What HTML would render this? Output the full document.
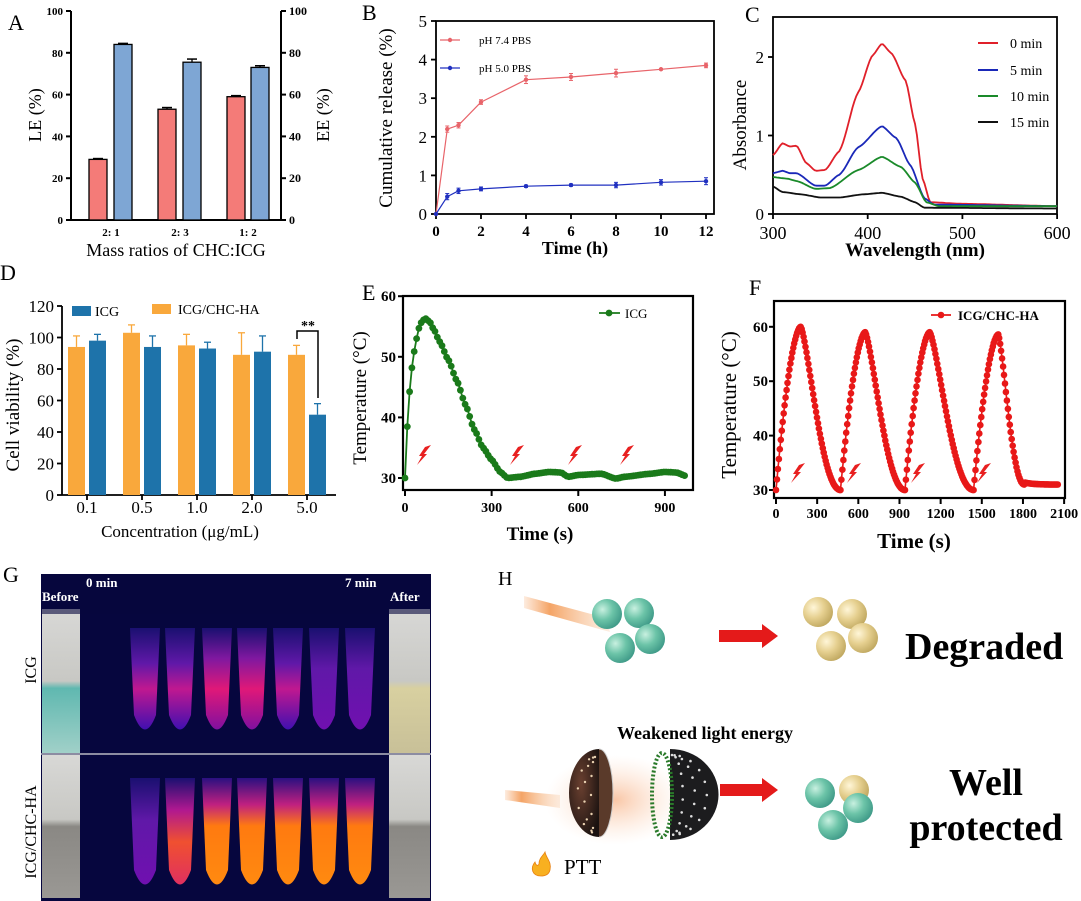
<!DOCTYPE html>
<html><head><meta charset="utf-8">
<style>
html,body{margin:0;padding:0;background:#fff;}
svg{display:block;font-family:"Liberation Serif",serif;}
</style></head>
<body>
<svg id="s" width="1081" height="901" viewBox="0 0 1081 901" xmlns="http://www.w3.org/2000/svg">
<defs>
<radialGradient id="teal" cx="35%" cy="35%" r="70%"><stop offset="0" stop-color="#c8f0e0"/><stop offset="0.5" stop-color="#6cc4a8"/><stop offset="1" stop-color="#3f9a88"/></radialGradient>
<radialGradient id="tan" cx="35%" cy="35%" r="70%"><stop offset="0" stop-color="#fff6d8"/><stop offset="0.5" stop-color="#e6d090"/><stop offset="1" stop-color="#c0a860"/></radialGradient>
<linearGradient id="beam" x1="0" y1="0" x2="1" y2="0"><stop offset="0" stop-color="#f6a060" stop-opacity="0.2"/><stop offset="0.3" stop-color="#f39a55" stop-opacity="0.9"/><stop offset="1" stop-color="#f8c8a0" stop-opacity="0.3"/></linearGradient>
<linearGradient id="t1" x1="0" y1="0" x2="0" y2="1"><stop offset="0" stop-color="#1a1070"/><stop offset="0.35" stop-color="#6018a8"/><stop offset="0.6" stop-color="#c01890"/><stop offset="1" stop-color="#4010b0"/></linearGradient>
<linearGradient id="t2" x1="0" y1="0" x2="0" y2="1"><stop offset="0" stop-color="#1a1070"/><stop offset="0.3" stop-color="#8018a0"/><stop offset="0.6" stop-color="#e01878"/><stop offset="1" stop-color="#8010a0"/></linearGradient>
<linearGradient id="b1" x1="0" y1="0" x2="0" y2="1"><stop offset="0" stop-color="#1a1070"/><stop offset="0.4" stop-color="#6018a8"/><stop offset="1" stop-color="#7010b0"/></linearGradient>
<linearGradient id="b2" x1="0" y1="0" x2="0" y2="1"><stop offset="0" stop-color="#1a1070"/><stop offset="0.3" stop-color="#b01890"/><stop offset="0.6" stop-color="#f05030"/><stop offset="1" stop-color="#e03060"/></linearGradient>
<linearGradient id="b3" x1="0" y1="0" x2="0" y2="1"><stop offset="0" stop-color="#2a1080"/><stop offset="0.25" stop-color="#c02080"/><stop offset="0.45" stop-color="#ff7a10"/><stop offset="1" stop-color="#ff8a10"/></linearGradient>
<linearGradient id="photoA" x1="0" y1="0" x2="0" y2="1"><stop offset="0" stop-color="#d8d8d6"/><stop offset="0.5" stop-color="#c8c8c4"/><stop offset="0.55" stop-color="#60b8b0"/><stop offset="1" stop-color="#a0d0c8"/></linearGradient>
<linearGradient id="photoB" x1="0" y1="0" x2="0" y2="1"><stop offset="0" stop-color="#d8d8d6"/><stop offset="0.5" stop-color="#c8c8c4"/><stop offset="0.55" stop-color="#d8d0a0"/><stop offset="1" stop-color="#c8c098"/></linearGradient>
<linearGradient id="photoC" x1="0" y1="0" x2="0" y2="1"><stop offset="0" stop-color="#d8d8d6"/><stop offset="0.45" stop-color="#c8c8c4"/><stop offset="0.5" stop-color="#8a8884"/><stop offset="1" stop-color="#9a9894"/></linearGradient>
<radialGradient id="hemi" cx="40%" cy="40%" r="70%"><stop offset="0" stop-color="#6a4030"/><stop offset="1" stop-color="#1a1210"/></radialGradient>
<radialGradient id="glow" cx="50%" cy="50%" r="50%"><stop offset="0" stop-color="#f8b890" stop-opacity="0.8"/><stop offset="1" stop-color="#fde0cc" stop-opacity="0"/></radialGradient>
</defs>
<g id="g"></g>
</svg>
<script>
var out=[];
function P(s){out.push(s);}
function T(x,y,txt,o){o=o||{};P('<text x="'+x+'" y="'+y+'" font-size="'+(o.fs||14)+'" font-weight="'+(o.fw||'normal')+'" text-anchor="'+(o.a||'middle')+'" fill="'+(o.c||'#000')+'"'+(o.r?' transform="rotate(-90 '+x+' '+y+')"':'')+'>'+txt+'</text>');}
function L(x1,y1,x2,y2,c,w){P('<line x1="'+x1+'" y1="'+y1+'" x2="'+x2+'" y2="'+y2+'" stroke="'+(c||'#000')+'" stroke-width="'+(w||1.5)+'"/>');}
function PL(pts,c,w){P('<polyline fill="none" stroke="'+c+'" stroke-width="'+(w||1.5)+'" stroke-linejoin="round" points="'+pts.map(function(p){return p[0].toFixed(1)+','+p[1].toFixed(1);}).join(' ')+'"/>');}
function interp(d,x){for(var i=0;i<d.length-1;i++){if(x<=d[i+1][0]){var t=(x-d[i][0])/(d[i+1][0]-d[i][0]);var a=d[i][1],b=d[i+1][1];var s=t*t*(3-2*t);return a+(b-a)*(0.5*t+0.5*s);}}return d[d.length-1][1];}

/* Panel A */
T(8,30,'A',{fs:22,a:'start'});
var ax0=71,ax1=281,ay0=220,ay100=11;function ay(v){return ay0-(ay0-ay100)*v/100;}
L(ax0,ay100,ax0,ay0,'#000',2);L(ax1,ay100,ax1,ay0,'#000',2);L(ax0,ay0,ax1,ay0,'#000',2);
for(var v=0;v<=100;v+=20){L(ax0-5,ay(v),ax0,ay(v),'#000',2);L(ax1,ay(v),ax1+5,ay(v),'#000',2);T(ax0-8,ay(v)+4,v,{fs:11,fw:'bold',a:'end'});T(ax1+8,ay(v)+4,v,{fs:12,fw:'bold',a:'start'});}
var bars=[[89,29,0.4],[114,84,0.5],[158,53,0.8],[183,75.5,1.5],[227,59,0.5],[251,73,0.8]];
bars.forEach(function(b,i){var c=i%2?'#7ea6d4':'#f47b78';P('<rect x="'+b[0]+'" y="'+ay(b[1])+'" width="18" height="'+(ay0-ay(b[1]))+'" fill="'+c+'" stroke="#000" stroke-width="1.3"/>');var xm=b[0]+9;L(xm,ay(b[1]+b[2]),xm,ay(b[1]),'#000',1.3);L(xm-5,ay(b[1]+b[2]),xm+5,ay(b[1]+b[2]),'#000',1.5);});
T(111,236,'2: 1',{fs:11,fw:'bold'});T(180,236,'2: 3',{fs:11,fw:'bold'});T(248,236,'1: 2',{fs:11,fw:'bold'});
T(176,256,'Mass ratios of CHC:ICG',{fs:18});
T(41,115,'LE (%)',{fs:18,r:1});T(329,115,'EE (%)',{fs:18,r:1});

/* Panel B */
T(362,20,'B',{fs:22,a:'start'});
var bx0=436,bx1=714,by0=214,bytop=21;function bx(t){return bx0+t*22.5;}function by(v){return by0-v*38.6;}
P('<rect x="'+bx0+'" y="'+bytop+'" width="'+(bx1-bx0)+'" height="'+(by0-bytop)+'" fill="none" stroke="#000" stroke-width="1.8"/>');
for(var v=0;v<=5;v++){L(bx0-5,by(v),bx0,by(v),'#000',1.8);T(bx0-9,by(v)+6,v,{fs:17,a:'end'});}
for(var t=0;t<=12;t+=2){L(bx(t),by0,bx(t),by0+5,'#000',1.8);T(bx(t),by0+22,t,{fs:15,fw:'bold'});}
T(575,254,'Time (h)',{fs:18,fw:'bold'});
T(392,118,'Cumulative release (%)',{fs:19,r:1});
var ts=[0,0.5,1,2,4,6,8,10,12];
var r74=[0,2.2,2.3,2.9,3.48,3.55,3.65,3.75,3.85],e74=[0,0.08,0.07,0.06,0.1,0.09,0.1,0.02,0.06];
var r50=[0,0.45,0.6,0.65,0.72,0.75,0.75,0.82,0.85],e50=[0,0.08,0.07,0.05,0.03,0.03,0.07,0.07,0.09];
function ser(r,e,c){PL(ts.map(function(t,i){return [bx(t),by(r[i])];}),c,1.2);ts.forEach(function(t,i){var x=bx(t);L(x,by(r[i]+e[i]),x,by(r[i]-e[i]),c,1);L(x-2,by(r[i]+e[i]),x+2,by(r[i]+e[i]),c,1);L(x-2,by(r[i]-e[i]),x+2,by(r[i]-e[i]),c,1);P('<circle cx="'+x+'" cy="'+by(r[i])+'" r="2.2" fill="'+c+'"/>');});}
ser(r74,e74,'#e8646a');ser(r50,e50,'#2030c0');
L(440,40,460,40,'#e8646a',1.2);P('<circle cx="450" cy="40" r="2.2" fill="#e8646a"/>');T(479,44,'pH 7.4 PBS',{fs:11,a:'start'});
L(440,68,460,68,'#2030c0',1.2);P('<circle cx="450" cy="68" r="2.2" fill="#2030c0"/>');T(479,72,'pH 5.0 PBS',{fs:11,a:'start'});

/* Panel C */
T(745,22,'C',{fs:22,a:'start'});
var cx0=773,cx1=1057,cy0=214,cyt=17;function cx(w){return cx0+(w-300)*0.947;}function cy(v){return cy0-v*78.5;}
P('<rect x="'+cx0+'" y="'+cyt+'" width="'+(cx1-cx0)+'" height="'+(cy0-cyt)+'" fill="none" stroke="#000" stroke-width="1.8"/>');
[0,1,2].forEach(function(v){L(cx0-5,cy(v),cx0,cy(v),'#000',1.8);T(cx0-9,cy(v)+6,v,{fs:17,a:'end'});});
[300,400,500,600].forEach(function(w){L(cx(w),cy0,cx(w),cy0+5,'#000',1.8);T(cx(w),cy0+25,w,{fs:18});});
T(915,256,'Wavelength (nm)',{fs:19,fw:'bold'});
T(746,125,'Absorbance',{fs:19,r:1});
var curves=[
['#e0202a',[[300,0.75],[310,0.9],[318,0.86],[325,0.87],[335,0.65],[345,0.55],[355,0.56],[370,0.8],[390,1.55],[405,2.02],[415,2.17],[425,2.05],[440,1.7],[450,1.15],[458,0.45],[466,0.15],[500,0.13],[600,0.1]]],
['#1a28b8',[[300,0.52],[310,0.55],[318,0.52],[325,0.52],[345,0.36],[355,0.36],[370,0.5],[390,0.85],[415,1.12],[430,0.97],[445,0.62],[460,0.2],[470,0.12],[600,0.1]]],
['#1a8a2a',[[300,0.47],[315,0.45],[325,0.42],[345,0.32],[360,0.33],[390,0.56],[415,0.73],[435,0.6],[450,0.4],[462,0.15],[475,0.1],[600,0.1]]],
['#111111',[[300,0.35],[310,0.28],[330,0.25],[350,0.21],[370,0.21],[395,0.25],[415,0.27],[435,0.22],[450,0.15],[460,0.08],[600,0.07]]]];
curves.forEach(function(c){var pts=[];for(var w=300;w<=600;w+=2){pts.push([cx(w),cy(interp(c[1],w))]);}PL(pts,c[0],1.8);});
var lg=[['0 min',43],['5 min',70],['10 min',96],['15 min',122]];
lg.forEach(function(l,i){L(978,l[1],998,l[1],curves[i][0],2);T(1010,l[1]+5,l[0],{fs:14,a:'start'});});

/* Panel D */
T(0,280,'D',{fs:22,a:'start'});
var dx0=62,dx1=336,dy0=495;function dy(v){return dy0-v*1.575;}
L(dx0,dy(120),dx0,dy0,'#000',1.8);L(dx0,dy0,dx1,dy0,'#000',1.8);
for(var v=0;v<=120;v+=20){L(dx0-5,dy(v),dx0,dy(v),'#000',1.8);T(dx0-8,dy(v)+6,v,{fs:17,a:'end'});}
var cen=[87,142,197,252,307],lab=['0.1','0.5','1.0','2.0','5.0'];
var ov=[94,103,95,89,89],oe=[101,108,102,103,95],bv=[98,94,93,91,51],be=[102,101,97,101,58];
cen.forEach(function(c,i){L(c,dy0,c,dy0+5,'#000',1.8);T(c,513,lab[i],{fs:17});
P('<rect x="'+(c-19)+'" y="'+dy(ov[i])+'" width="17" height="'+(dy0-dy(ov[i]))+'" fill="#f9a83c"/>');
L(c-10.5,dy(oe[i]),c-10.5,dy(ov[i]),'#f9a83c',1.3);L(c-14,dy(oe[i]),c-7,dy(oe[i]),'#f9a83c',1.3);
P('<rect x="'+(c+2)+'" y="'+dy(bv[i])+'" width="17" height="'+(dy0-dy(bv[i]))+'" fill="#1e73aa"/>');
L(c+10.5,dy(be[i]),c+10.5,dy(bv[i]),'#1e73aa',1.3);L(c+7,dy(be[i]),c+14,dy(be[i]),'#1e73aa',1.3);});
P('<polyline fill="none" stroke="#000" stroke-width="1.5" points="297,339 297,331 318,331 318,398"/>');
T(308,330,'**',{fs:14,fw:'bold'});
P('<rect x="72" y="306" width="19" height="10" fill="#1e73aa"/>');T(95,316,'ICG',{fs:14,a:'start'});
P('<rect x="152" y="304" width="19" height="10" fill="#f9a83c"/>');T(178,314,'ICG/CHC-HA',{fs:14,a:'start'});
T(180,537,'Concentration (μg/mL)',{fs:17});
T(19,405,'Cell viability (%)',{fs:19,r:1});

/* Bolt */
function bolt(x,y){P('<path d="M'+(x+8)+','+(y-10)+' L'+(x+1)+','+(y-1)+' L'+(x+4)+','+(y-1)+' L'+(x-6)+','+(y+10)+' L'+(x-1)+','+(y+1)+' L'+(x-4)+','+(y+1)+' L'+(x+2)+','+(y-8)+' Z" fill="#e82020"/>');}

/* Panel E */
T(362,300,'E',{fs:22,a:'start'});
var ex0=403,ex1=693,ey0=490,eyt=296;function ex(t){return 405+t*0.2888;}function ey(v){return 478-(v-30)*6.06;}
P('<rect x="'+ex0+'" y="'+eyt+'" width="'+(ex1-ex0)+'" height="'+(ey0-eyt)+'" fill="none" stroke="#000" stroke-width="2.2"/>');
[30,40,50,60].forEach(function(v){L(ex0-5,ey(v),ex0,ey(v),'#000',2);T(ex0-7,ey(v)+5,v,{fs:15,fw:'bold',a:'end'});});
[0,300,600,900].forEach(function(t){L(ex(t),ey0,ex(t),ey0+6,'#000',2);T(ex(t),ey0+22,t,{fs:14,fw:'bold'});});
T(540,540,'Time (s)',{fs:19,fw:'bold'});
T(366,398,'Temperature (°C)',{fs:19,r:1});
var ed=[[0,30],[10,40],[20,46.8],[30,50.5],[40,53],[50,55],[60,56],[72,56.3],[85,55.8],[100,54.5],[120,52.5],[150,49.5],[180,46],[210,42],[240,38],[270,35],[300,33],[330,31],[355,30],[400,30.2],[450,30.7],[500,31],[540,30.9],[565,30.2],[600,30.5],[680,30.7],[730,29.9],[760,30.2],[850,30.7],[900,31],[940,30.9],[975,30.3]];
var ep=[];for(var t=0;t<=975;t+=8){ep.push([ex(t),ey(interp(ed,t))]);}
PL(ep,'#1a7a1a',1.8);ep.forEach(function(p){P('<circle cx="'+p[0].toFixed(1)+'" cy="'+p[1].toFixed(1)+'" r="3.4" fill="#1a7a1a"/>');});
L(599,313,620,313,'#1a7a1a',1.8);P('<circle cx="609" cy="313" r="3.4" fill="#1a7a1a"/>');T(625,318,'ICG',{fs:13,a:'start'});
bolt(423,455);bolt(516,455);bolt(574,455);bolt(626,455);

/* Panel F */
T(749,295,'F',{fs:22,a:'start'});
var fx0=774,fx1=1065,fy0=498,fyt=301;function fx(t){return 776+t*0.1372;}function fy(v){return 490-(v-30)*5.44;}
P('<rect x="'+fx0+'" y="'+fyt+'" width="'+(fx1-fx0)+'" height="'+(fy0-fyt)+'" fill="none" stroke="#000" stroke-width="2.2"/>');
[30,40,50,60].forEach(function(v){L(fx0-5,fy(v),fx0,fy(v),'#000',2);T(fx0-6,fy(v)+5,v,{fs:15,fw:'bold',a:'end'});});
[0,300,600,900,1200,1500,1800,2100].forEach(function(t){L(fx(t),fy0,fx(t),fy0+6,'#000',2);T(fx(t),fy0+20,t,{fs:14,fw:'bold'});});
T(914,548,'Time (s)',{fs:21,fw:'bold'});
T(736,405,'Temperature (°C)',{fs:21,r:1});
var cyc=[[0,180,470,60],[470,650,940,59],[940,1120,1440,59],[1440,1620,2060,58.6]];
var fp=[];
cyc.forEach(function(c,k){var s=c[0],p=c[1],e=c[2],mx=c[3];
for(var t=s;t<p;t+=7){var u=(t-s)/(p-s);fp.push([t,30+(mx-30)*(1-Math.pow(1-u,1.7))]);}
var endv=k==3?31:30;var fl=k==3?190:(e-p);
for(var t=p;t<=e;t+=7){var u=(t-p)/fl;if(u>1){fp.push([t,31+0.4*Math.exp(-(t-p-fl)/60)]);continue;}var s2=0.5+0.5*Math.cos(Math.PI*Math.pow(u,0.7));fp.push([t,endv+(mx-endv)*s2]);}});
var fpp=fp.map(function(q){return [fx(q[0]),fy(q[1])];});
PL(fpp,'#e81818',1.6);fpp.forEach(function(p){P('<circle cx="'+p[0].toFixed(1)+'" cy="'+p[1].toFixed(1)+'" r="3.3" fill="#e81818"/>');});
L(931,315,951,315,'#e81818',1.8);P('<circle cx="941" cy="315" r="3.3" fill="#e81818"/>');T(958,320,'ICG/CHC-HA',{fs:13,fw:'bold',a:'start'});
bolt(797,473);bolt(853,473);bolt(917,473);bolt(983,473);

/* Panel G */
T(3,582,'G',{fs:22,a:'start'});
P('<rect x="41" y="574" width="390" height="327" fill="#06063e"/>');
P('<rect x="42" y="609" width="38" height="144" fill="url(#photoA)"/>');
P('<rect x="389" y="609" width="41" height="144" fill="url(#photoB)"/>');
P('<rect x="42" y="755" width="38" height="143" fill="url(#photoC)"/>');
P('<rect x="389" y="755" width="41" height="143" fill="url(#photoC)"/>');
L(41,754,431,754,'#ddd',1.2);
var tc=[145,180,217,252,288,324,360],tg1=['t1','t1','t2','t2','t1','b1','b1'],tg2=['b1','b2','b3','b3','b3','b3','b3'];
function tube(c,y1,y2,g){P('<path d="M'+(c-15)+','+y1+' L'+(c+15)+','+y1+' L'+(c+11)+','+(y2-25)+' Q'+c+','+(y2+4)+' '+(c-11)+','+(y2-25)+' Z" fill="url(#'+g+')"/>');}
tc.forEach(function(c,i){tube(c,628,740,tg1[i]);tube(c,778,895,tg2[i]);});
P('<rect x="41" y="574" width="390" height="40" fill="#06063e" opacity="0.6"/>');
T(86,587,'0 min',{fs:13,fw:'bold',c:'#fff',a:'start'});T(42,601,'Before',{fs:13,fw:'bold',c:'#fff',a:'start'});
T(345,587,'7 min',{fs:13,fw:'bold',c:'#fff',a:'start'});T(390,601,'After',{fs:13,fw:'bold',c:'#fff',a:'start'});
T(36,670,'ICG',{fs:16,r:1});T(36,832,'ICG/CHC-HA',{fs:16,r:1});

/* Panel H */
T(498,585,'H',{fs:20,a:'start'});
P('<polygon points="524,596 524,608 610,632 606,618" fill="url(#beam)"/>');
[[607,614],[639,613],[650,639],[620,648]].forEach(function(p){P('<circle cx="'+p[0]+'" cy="'+p[1]+'" r="15" fill="url(#teal)"/>');});
P('<path d="M719,630 L762,630 L762,624 L778,636 L762,648 L762,642 L719,642 Z" fill="#e41a1a"/>');
[[818,612],[852,614],[863,638],[831,646]].forEach(function(p){P('<circle cx="'+p[0]+'" cy="'+p[1]+'" r="15" fill="url(#tan)"/>');});
T(905,659,'Degraded',{fs:38,fw:'bold',a:'start'});
T(705,739,'Weakened light energy',{fs:18,fw:'bold'});
P('<ellipse cx="615" cy="800" rx="70" ry="45" fill="url(#glow)"/>');
P('<polygon points="505,790 505,800 560,808 560,795" fill="url(#beam)"/>');
P('<path d="M599,749 A30,44 0 0 0 599,837 Z" fill="url(#hemi)"/>');
P('<path d="M599,749 A14,44 0 0 1 599,837" fill="#5a3a2a" stroke="#ccc" stroke-width="1"/>');
P('<path d="M670,749 A48,45 0 0 1 670,840 Z" fill="#1c1c1e"/>');
P('<ellipse cx="662" cy="795" rx="10" ry="42" fill="none" stroke="#2a7a2a" stroke-width="4" stroke-dasharray="2,2"/>');
(function(){for(var i=0;i<28;i++){var a=Math.PI*(i/28-0.5);var px=672+36*Math.cos(a)*((i%3)/3+0.3),py=795+40*Math.sin(a);P('<circle cx="'+px.toFixed(1)+'" cy="'+py.toFixed(1)+'" r="1.3" fill="#ddd"/>');}
for(var i=0;i<18;i++){var a=Math.PI*(i/18-0.5);var px=595-20*Math.cos(a)*((i%3)/3+0.2),py=795+38*Math.sin(a);P('<circle cx="'+px.toFixed(1)+'" cy="'+py.toFixed(1)+'" r="1.2" fill="#e8d0b0"/>');}})();
P('<path d="M720,784 L762,784 L762,778 L778,790 L762,802 L762,796 L720,796 Z" fill="#e41a1a"/>');
[[854,790,'tan'],[820,793,'teal'],[858,808,'teal'],[833,825,'teal']].forEach(function(p){P('<circle cx="'+p[0]+'" cy="'+p[1]+'" r="15" fill="url(#'+p[2]+')"/>');});
T(986,795,'Well',{fs:38,fw:'bold'});T(986,840,'protected',{fs:38,fw:'bold'});
P('<path d="M541,876 C532,876 530,868 535,862 C536,866 538,866 539,864 C539,858 543,856 545,852 C546,858 552,862 550,870 C549,874 546,876 541,876 Z" fill="#f8b020" stroke="#e88010" stroke-width="0.8"/>');
T(564,874,'PTT',{fs:21,a:'start'});

document.getElementById('g').innerHTML=out.join('');
</script>
</body></html>
